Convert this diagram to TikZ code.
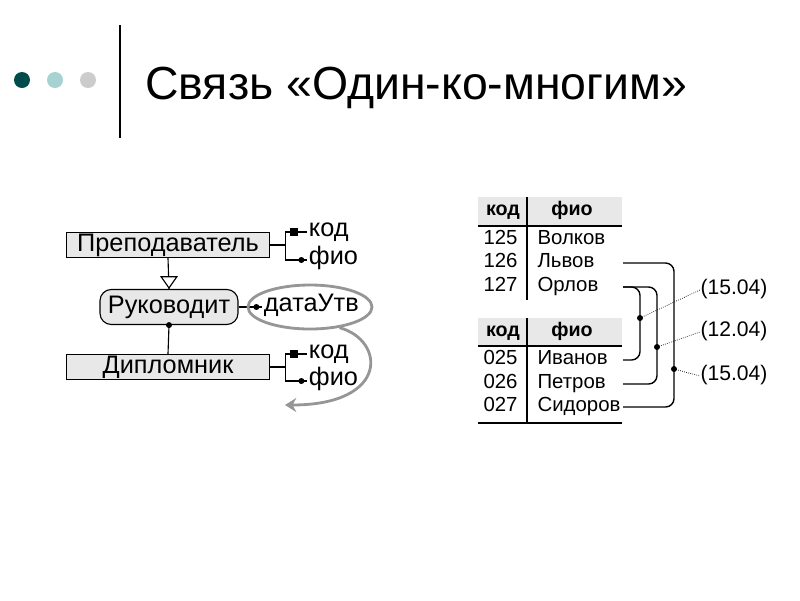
\documentclass[tikz,border=0pt]{standalone}
\usepackage{fontspec}
\setmainfont{Liberation Sans}
\usetikzlibrary{positioning,shapes.geometric,arrows.meta}
\definecolor{boxgray}{RGB}{232,232,232}
\definecolor{loopgray}{RGB}{150,150,150}
\tikzset{
  entity/.style={draw, black, fill=boxgray, minimum width=203*0.025cm, minimum height=25*0.025cm, inner sep=0pt, font=\fontsize{18}{18}\selectfont},
  attr/.style={anchor=west, inner sep=1pt, text height=1.5ex, text depth=.3ex, font=\fontsize{18}{18}\selectfont},
  cell/.style={inner sep=0pt, text height=1.5ex, text depth=.3ex, font=\fontsize{14.5}{14.5}\selectfont},
  head/.style={cell, font=\fontsize{14}{14}\selectfont\bfseries},
  link/.style={black, line width=1pt, rounded corners=6pt},
  note/.style={black, densely dotted}
}
\begin{document}
\begin{tikzpicture}[x=0.025cm, y=-0.025cm, line width=0.8pt]
  \useasboundingbox (0,0) rectangle (800,600);

  % title
  \fill[teal!60!black] (22,80) circle (8);
  \fill[teal!35] (55,80) circle (8);
  \fill[black!20] (88,80) circle (8);
  \draw[line width=2pt] (120,25) -- (120,138);
  \node[anchor=west, font=\fontsize{33}{33}\selectfont] at (140,88) (title) {Связь «Один-ко-многим»};

  % ER diagram
  \node[entity] at (168,245) (teacher) {Преподаватель};
  \node[entity, draw, rounded corners=8pt, minimum width=138*0.025cm, minimum height=35*0.025cm] at (169,307) (leads) {Руководит};
  \node[entity] at (168,367) (student) {Дипломник};

  \draw (teacher.south) -- (leads.north) node[isosceles triangle, shape border rotate=-90, draw, fill=white, isosceles triangle apex angle=70, minimum size=8pt, inner sep=0pt, anchor=apex] at (leads.north) {};
  \draw (leads.south) -- (student.north);
  \fill (leads.south) circle (3);

  \node[attr] at (307,232) (tkod) {код};
  \node[attr] at (307,260) (tfio) {фио};
  \draw (teacher.east) -- ++(15,0) coordinate (tb);
  \draw (tb |- tkod) -- (tb |- tfio);
  \draw (tb |- tkod) -- (tkod.west);
  \draw (tb |- tfio) -- (tfio.west);
  \fill ([xshift=-9]tkod.west) ++(-4,-4) rectangle ++(8,8);
  \fill ([xshift=-4]tfio.west) circle (3);

  \node[attr] at (262,307) (date) {датаУтв};
  \draw (leads.east) -- (date.west);
  \fill ([xshift=-4]date.west) circle (3);
  \node[ellipse, draw=loopgray, line width=2pt, minimum width=124*0.025cm, minimum height=44*0.025cm] at (310,307) (loop) {};
  \draw[loopgray, line width=2pt, -{Stealth[length=8pt,width=10pt]}] (loop.-35) .. controls (385,340) and (390,405) .. (285,405) coordinate (back);

  \node[attr] at (307,354) (skod) {код};
  \node[attr] at (307,381) (sfio) {фио};
  \draw (student.east) -- ++(15,0) coordinate (sb);
  \draw (sb |- skod) -- (sb |- sfio);
  \draw (sb |- skod) -- (skod.west);
  \draw (sb |- sfio) -- (sfio.west);
  \fill ([xshift=-9]skod.west) ++(-4,-4) rectangle ++(8,8);
  \fill ([xshift=-4]sfio.west) circle (3);

  % tables
  \fill[boxgray] (478,197) rectangle (622,225);
  \draw (478,226) -- (622,226);
  \draw (527,197) -- (527,300);
  \node[head] at (503,211) (hk1) {код};
  \node[head] at (572,211) (hf1) {фио};
  \node[cell, anchor=west] at (483,240) (k125) {125};
  \node[cell, anchor=west] at (483,263) (k126) {126};
  \node[cell, anchor=west] at (483,287) (k127) {127};
  \node[cell, anchor=west] at (537,240) (volkov) {Волков};
  \node[cell, anchor=west] at (537,263) (lvov) {Львов};
  \node[cell, anchor=west] at (537,287) (orlov) {Орлов};

  \fill[boxgray] (478,318) rectangle (622,345);
  \draw (478,346) -- (622,346);
  \draw (527,318) -- (527,423);
  \draw (478,423) -- (622,423);
  \node[head] at (503,332) (hk2) {код};
  \node[head] at (572,332) (hf2) {фио};
  \node[cell, anchor=west] at (483,360) (k025) {025};
  \node[cell, anchor=west] at (483,384) (k026) {026};
  \node[cell, anchor=west] at (483,407) (k027) {027};
  \node[cell, anchor=west] at (537,360) (ivanov) {Иванов};
  \node[cell, anchor=west] at (537,384) (petrov) {Петров};
  \node[cell, anchor=west] at (537,407) (sidorov) {Сидоров};

  \draw[link] (623,263) -| (674,340) |- (623,407);
  \draw[link] (623,287) -| (640,330) |- (623,360);
  \draw[link] (623,287) -| (657,340) |- (623,384);

  \node[cell, anchor=west, font=\fontsize{15}{15}\selectfont] at (700,290) (d1) {(15.04)};
  \node[cell, anchor=west, font=\fontsize{15}{15}\selectfont] at (700,332) (d2) {(12.04)};
  \node[cell, anchor=west, font=\fontsize{15}{15}\selectfont] at (700,376) (d3) {(15.04)};
  \coordinate (p1) at (640,318);
  \coordinate (p2) at (657,347);
  \coordinate (p3) at (674,369);
  \foreach \p/\d in {p1/d1, p2/d2, p3/d3} {
    \fill (\p) circle (3);
    \draw[note, line width=0.5pt] (\p) -- (\d.west);
  }
\end{tikzpicture}
\end{document}
